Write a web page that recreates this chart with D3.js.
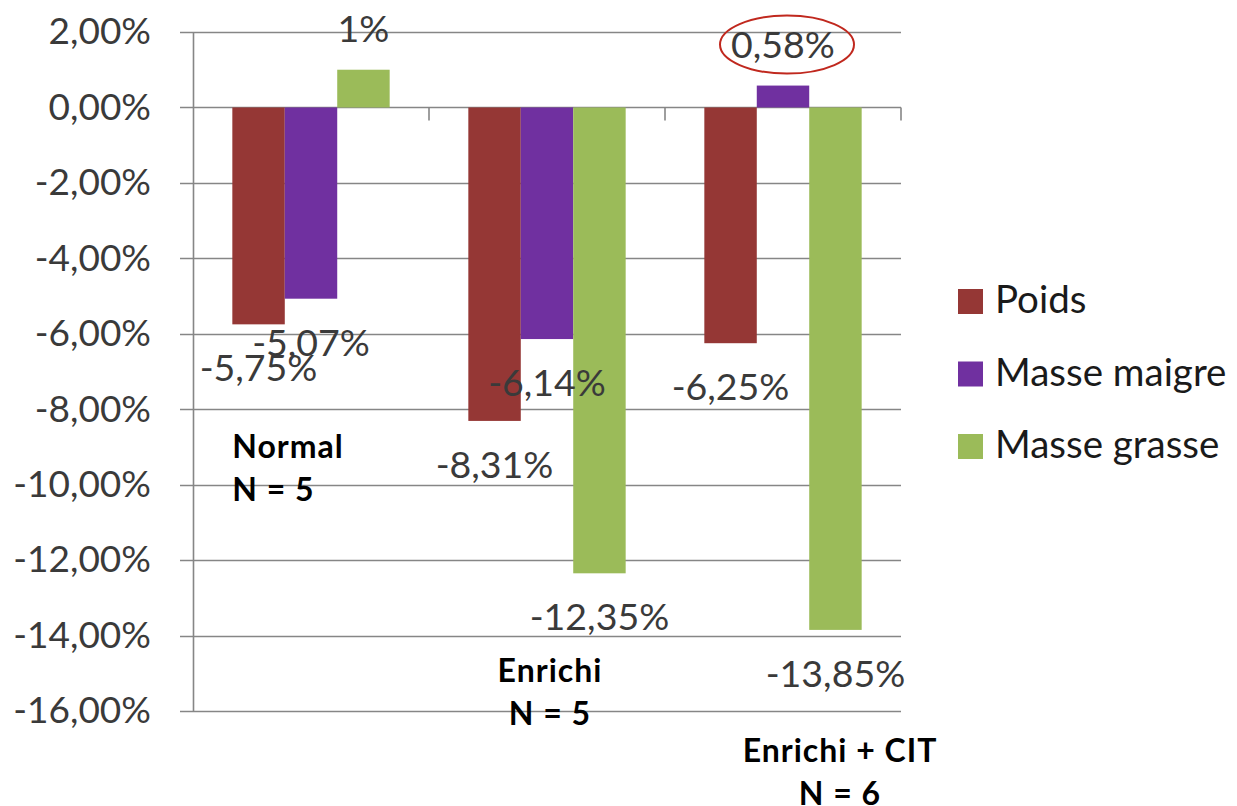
<!DOCTYPE html>
<html>
<head>
<meta charset="utf-8">
<script src="https://cdn.jsdelivr.net/npm/d3@7"></script>
<style>
  html, body { margin: 0; padding: 0; background: #fff; }
  svg { display: block; }
</style>
</head>
<body>
<svg id="chart" width="1237" height="806"></svg>
<script>
// Variation (%) of weight, lean mass and fat mass per diet group
const categories = ["Normal", "Enrichi", "Enrichi + CIT"];
const groupSizes = ["N = 5", "N = 5", "N = 6"];
const seriesNames = ["Poids", "Masse maigre", "Masse grasse"];
const poids = [-5.75, -8.31, -6.25];
const masseMaigre = [-5.07, -6.14, 0.58];
const masseGrasse = [1, -12.35, -13.85];
const poidsLabels = ["-5,75%", "-8,31%", "-6,25%"];
const masseMaigreLabels = ["-5,07%", "-6,14%", "0,58%"];
const masseGrasseLabels = ["1%", "-12,35%", "-13,85%"];
const yTicks = [2, 0, -2, -4, -6, -8, -10, -12, -14, -16];
const seriesColors = ["#953735", "#7030A0", "#9BBB59"];

const seriesValues = [poids, masseMaigre, masseGrasse];
const seriesLabels = [poidsLabels, masseMaigreLabels, masseGrasseLabels];

const svg = d3.select("#chart");
const plot = { left: 193, right: 901, top: 32, bottom: 711 };

const x0 = d3.scaleBand().domain(categories).range([plot.left, plot.right]).paddingInner(0).paddingOuter(0);
const x1 = d3.scaleBand().domain(seriesNames).range([0, x0.bandwidth()]).paddingInner(0).paddingOuter(0.75);
const y = d3.scaleLinear().domain([2, -16]).range([plot.top, plot.bottom]);

const fr = d3.formatLocale({ decimal: ",", thousands: " ", grouping: [3], currency: ["", " €"], minus: "-" });
const tickFmt = d => fr.format(".2f")(d) + "%";

const gridColor = "#868686";
const textFont = "Lato, 'Liberation Sans', sans-serif";

// horizontal gridlines
svg.append("g")
  .selectAll("line")
  .data(yTicks)
  .join("line")
  .attr("x1", plot.left - 13)
  .attr("x2", plot.right)
  .attr("y1", d => Math.round(y(d)) + 0.5)
  .attr("y2", d => Math.round(y(d)) + 0.5)
  .attr("stroke", gridColor)
  .attr("stroke-width", 1.6);

// value axis
const yAxis = svg.append("g")
  .attr("transform", `translate(${plot.left},0)`)
  .call(d3.axisLeft(y).tickValues(yTicks).tickFormat(tickFmt).tickSize(0).tickPadding(42));
yAxis.select(".domain").attr("stroke", gridColor).attr("stroke-width", 1.6);
yAxis.selectAll("text")
  .attr("font-family", textFont)
  .attr("font-size", 37)
  .attr("fill", "#3a3a3a");

// category axis ticks on the zero line
svg.append("g")
  .selectAll("line")
  .data(categories.slice(1).concat(["__end"]))
  .join("line")
  .attr("x1", (d, i) => i < 2 ? x0(categories[i + 1]) : plot.right)
  .attr("x2", (d, i) => i < 2 ? x0(categories[i + 1]) : plot.right)
  .attr("y1", y(0))
  .attr("y2", y(0) + 13)
  .attr("stroke", gridColor)
  .attr("stroke-width", 1.6);

// bars
const groups = svg.append("g")
  .selectAll("g")
  .data(categories)
  .join("g")
  .attr("transform", d => `translate(${x0(d)},0)`);

groups.selectAll("rect")
  .data((c, ci) => seriesNames.map((s, si) => ({ s, si, v: seriesValues[si][ci], label: seriesLabels[si][ci] })))
  .join("rect")
  .attr("x", d => x1(d.s))
  .attr("width", x1.bandwidth())
  .attr("y", d => y(Math.max(0, d.v)))
  .attr("height", d => Math.abs(y(d.v) - y(0)))
  .attr("fill", d => seriesColors[d.si]);

// data labels
groups.selectAll("text.val")
  .data((c, ci) => seriesNames.map((s, si) => ({ s, si, v: seriesValues[si][ci], label: seriesLabels[si][ci] })))
  .join("text")
  .attr("class", "val")
  .attr("x", d => x1(d.s) + x1.bandwidth() / 2)
  .attr("y", d => d.v >= 0 ? y(d.v) - 28 : y(d.v) + 57)
  .attr("text-anchor", "middle")
  .attr("font-family", textFont)
  .attr("font-size", 37.5)
  .attr("fill", "#3a3a3a")
  .text(d => d.label);

// highlight ring around the lean-mass gain
const ringCat = categories[2];
const ringX = x0(ringCat) + x1(seriesNames[1]) + x1.bandwidth() / 2 + 4;
const ringY = y(masseMaigre[2]) - 41;
svg.append("ellipse")
  .attr("cx", ringX)
  .attr("cy", ringY)
  .attr("rx", 67)
  .attr("ry", 29)
  .attr("fill", "none")
  .attr("stroke", "#c0281e")
  .attr("stroke-width", 2);

// category labels (group name + sample size)
const catLabelLayout = [
  { anchor: "start", dx: x1(seriesNames[0]), v: -9.29 },
  { anchor: "middle", dx: x0.bandwidth() / 2 + 3, v: -15.24 },
  { anchor: "middle", dx: x0.bandwidth() / 2 + 57, v: -17.35 }
];
const catText = svg.append("g")
  .selectAll("text")
  .data(categories)
  .join("text")
  .attr("x", (d, i) => x0(d) + catLabelLayout[i].dx)
  .attr("y", (d, i) => y(catLabelLayout[i].v))
  .attr("text-anchor", (d, i) => catLabelLayout[i].anchor)
  .attr("font-family", textFont)
  .attr("font-weight", "bold")
  .attr("font-size", 32)
  .attr("letter-spacing", 1)
  .attr("fill", "#000");
catText.append("tspan").text(d => d);
catText.append("tspan")
  .attr("x", (d, i) => x0(d) + catLabelLayout[i].dx)
  .attr("dy", 43)
  .text((d, i) => groupSizes[i]);

// legend
const legend = svg.append("g").attr("transform", "translate(958,289)");
const items = legend.selectAll("g")
  .data(seriesNames)
  .join("g")
  .attr("transform", (d, i) => `translate(0,${i * 72.5})`);
items.append("rect")
  .attr("width", 25)
  .attr("height", 25)
  .attr("fill", (d, i) => seriesColors[i]);
items.append("text")
  .attr("x", 37)
  .attr("y", 24)
  .attr("font-family", textFont)
  .attr("font-size", 38.5)
  .attr("fill", "#1a1a1a")
  .text(d => d);
</script>
</body>
</html>
